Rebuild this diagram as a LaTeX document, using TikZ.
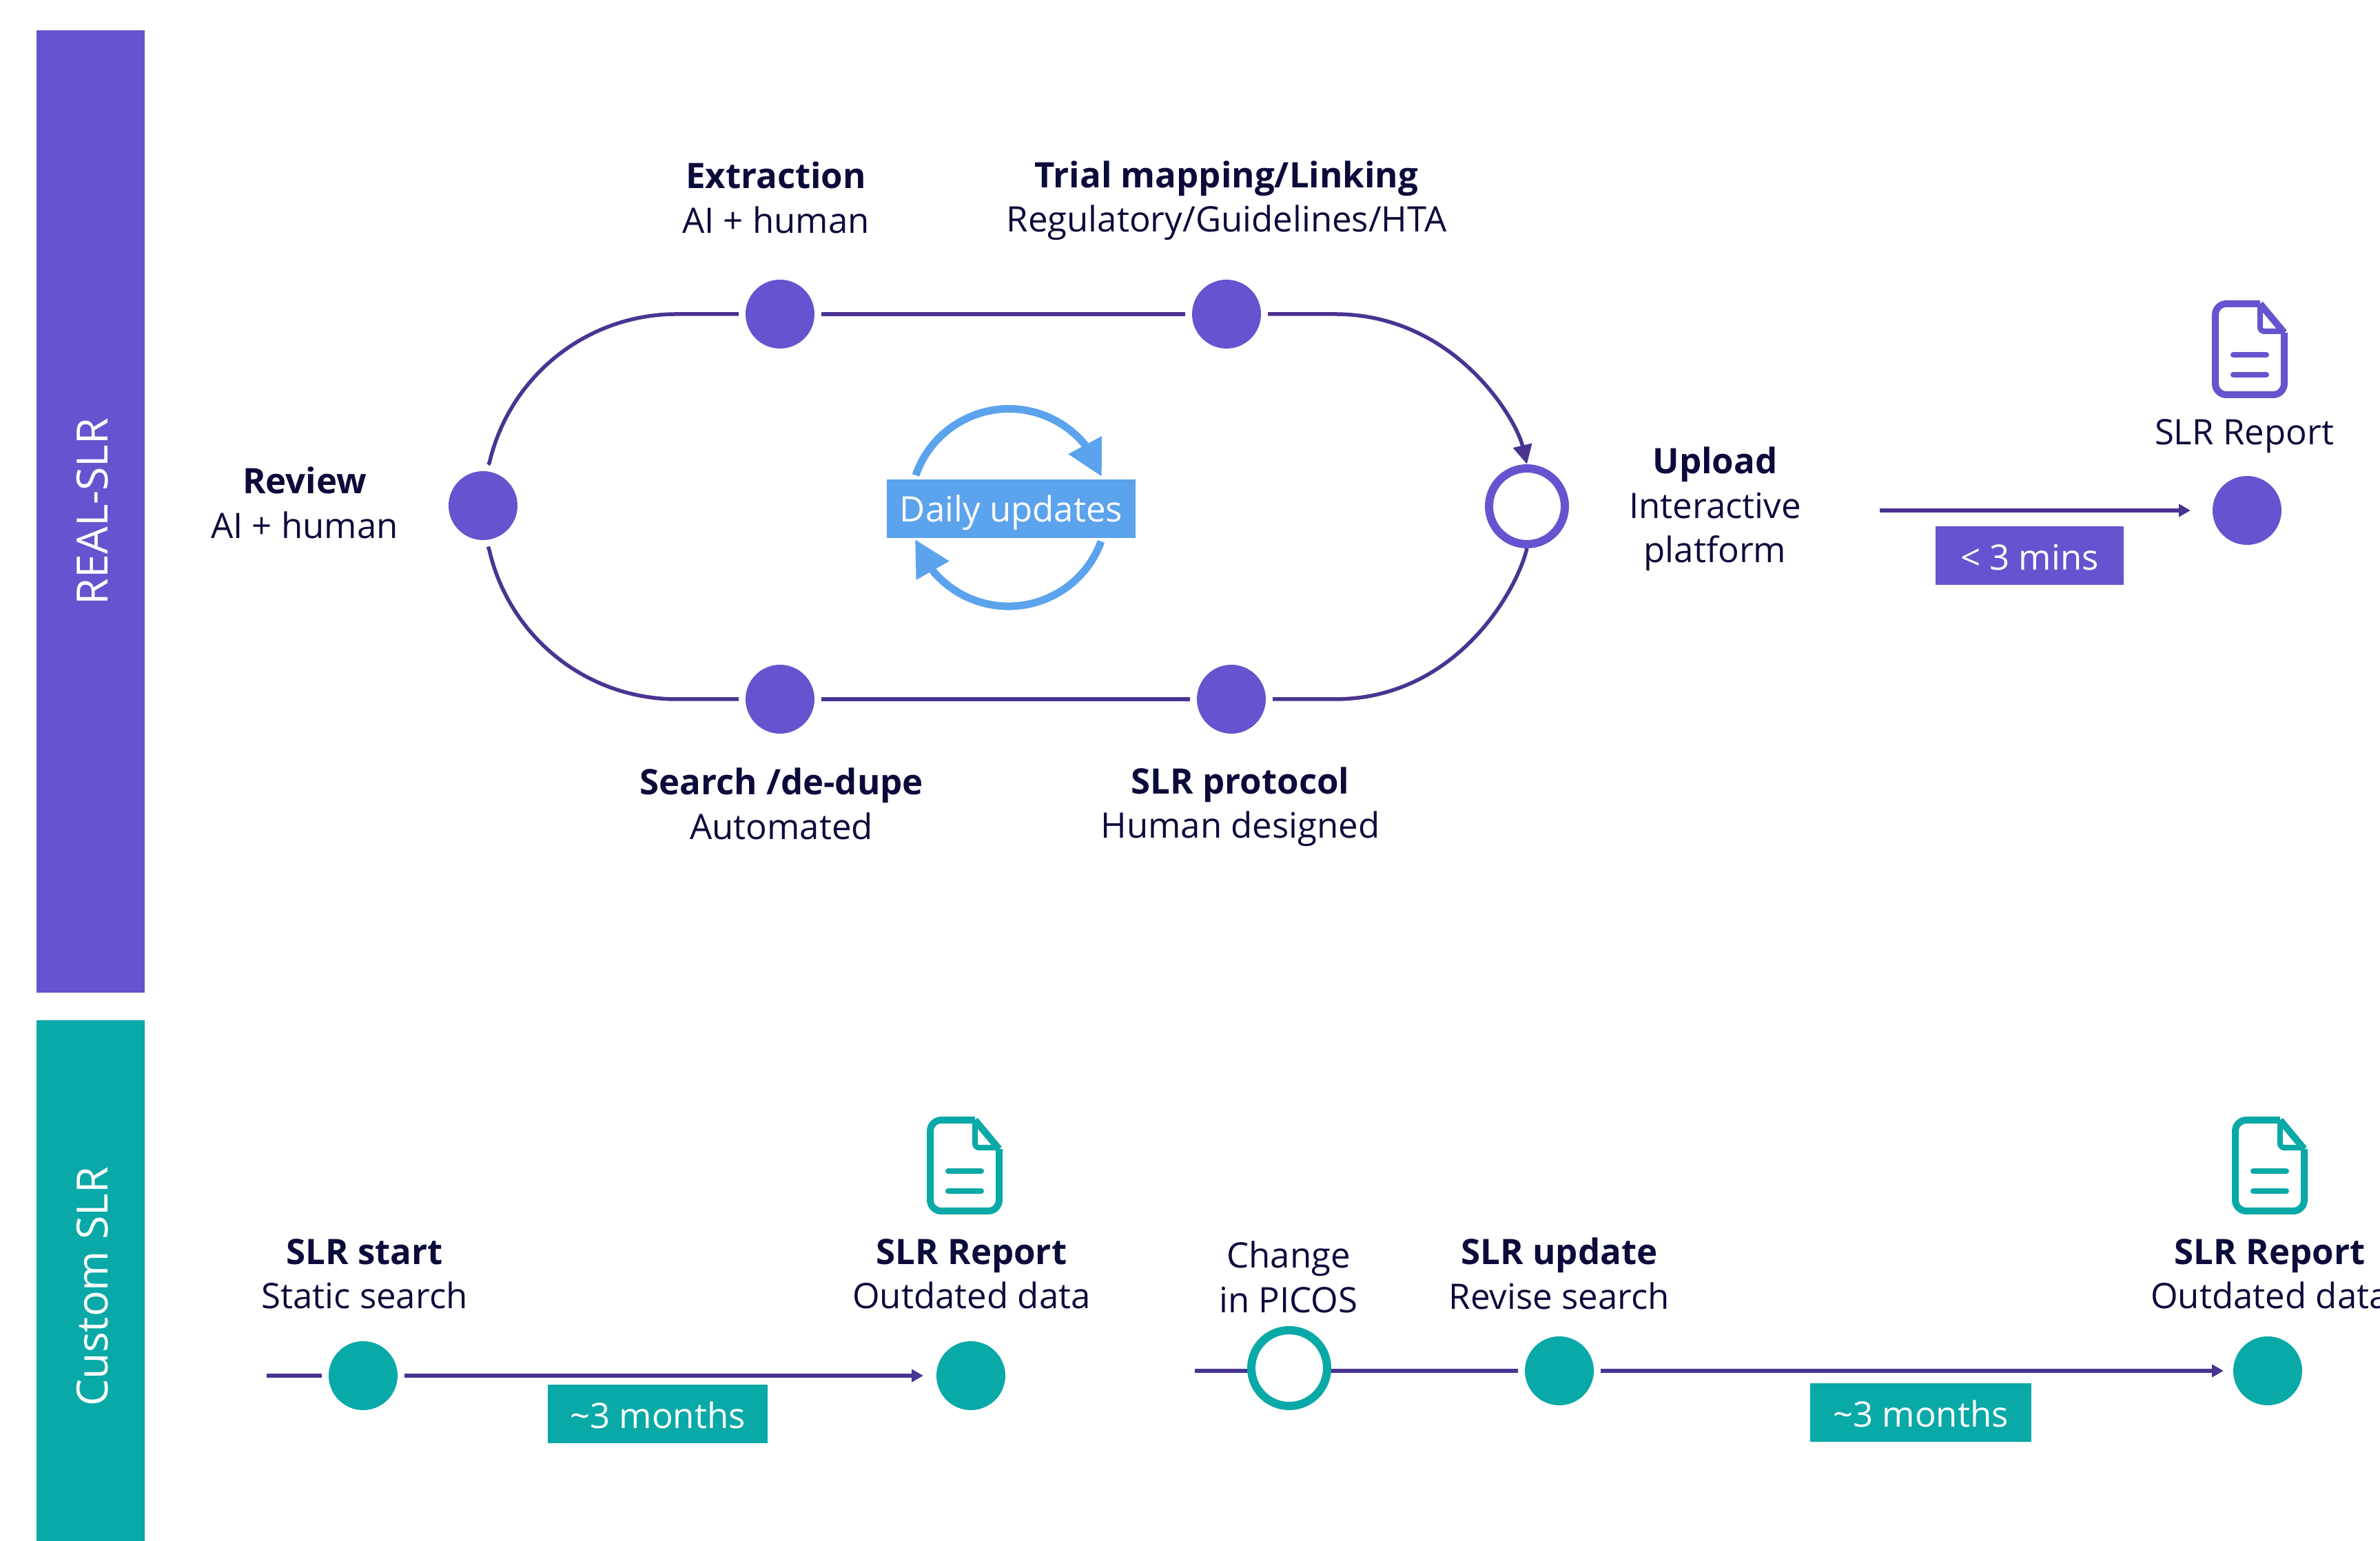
\documentclass[tikz,border=0pt]{standalone}
\usepackage{fontspec}
\setmainfont{Open Sans}
\usetikzlibrary{arrows.meta}

\definecolor{slrpurple}{HTML}{6454CF}
\definecolor{slrteal}{HTML}{09A9A7}
\definecolor{slrline}{HTML}{4A3491}
\definecolor{slrtext}{HTML}{0B0B3B}
\definecolor{slrblue}{HTML}{5BA3EC}

\tikzset{
    lbl/.style={text=slrtext, align=center, inner sep=0pt, font=\fontsize{14.5}{18.3}\selectfont},
    dot/.style={circle, inner sep=0pt, minimum size=1cm, outer sep=0.1cm},
    ring/.style={circle, draw, fill=white, line width=0.12cm, inner sep=0pt, minimum size=1.1cm},
    tag/.style={text=white, inner sep=0pt, minimum height=0.85cm, text height=0.54cm, text depth=0.11cm, font=\fontsize{14.5}{18.3}\selectfont},
    band/.style={rotate=90, text=white, inner sep=0pt, minimum height=1.57cm, text height=0.60cm, text depth=0.10cm, font=\fontsize{17.8}{20}\selectfont},
    loopline/.style={slrline, line width=0.055cm},
    flowline/.style={slrline, line width=0.06cm, -{Triangle[length=0.17cm,width=0.18cm]}},
    cycle arrow/.style={slrblue, line width=0.11cm, -{Triangle[length=0.52cm,width=0.52cm]}},
    docicon/.pic={
        \draw[pic actions, line width=0.1cm, rounded corners=0.16cm] (0.15,0.66) -- (-0.5,0.66) -- (-0.5,-0.66) -- (0.5,-0.66) -- (0.5,0.24);
        \draw[pic actions, line width=0.1cm] (0.5,0.24) -- (0.15,0.66);
        \draw[pic actions, line width=0.08cm, rounded corners=0.06cm] (0.15,0.66) -- (0.15,0.26) -- (0.5,0.26);
        \draw[pic actions, line width=0.08cm, line cap=round] (-0.24,-0.08) -- (0.24,-0.08);
        \draw[pic actions, line width=0.08cm, line cap=round] (-0.24,-0.37) -- (0.24,-0.37);
    }
}

\begin{document}
\begin{tikzpicture}

    \useasboundingbox (0,0) rectangle (34.54,22.37);

    % side bands
    \node[band, fill=slrpurple, minimum width=13.97cm] (realband) at (1.315,14.945) {REAL-SLR};
    \node[band, fill=slrteal, minimum width=7.74cm] (customband) at (1.315,3.69) {Custom SLR};

    % REAL-SLR loop
    \node[dot, fill=slrpurple] (review) at (7.01,15.03) {};
    \node[dot, fill=slrpurple] (extraction) at (11.32,17.81) {};
    \node[dot, fill=slrpurple] (mapping) at (17.80,17.81) {};
    \node[dot, fill=slrpurple] (search) at (11.32,12.22) {};
    \node[dot, fill=slrpurple] (protocol) at (17.87,12.22) {};
    \node[ring, draw=slrpurple] (upload) at (22.16,15.02) {};

    \draw[loopline] (extraction.west) -- (9.82,17.81) arc[start angle=90,end angle=167,radius=2.79] -- (review.83);
    \draw[loopline] (search.west) -- (9.82,12.22) arc[start angle=270,end angle=193,radius=2.79] -- (review.-83);
    \draw[loopline] (extraction) -- (mapping);
    \draw[loopline] (search) -- (protocol);
    \draw[loopline, -{Triangle[length=0.28cm,width=0.27cm]}] (mapping.east) -- (19.37,17.81) .. controls (21.10,17.81) and (22.00,16.30) .. (upload.north);
    \draw[loopline] (protocol.east) -- (19.37,12.22) .. controls (21.10,12.22) and (22.00,13.75) .. (upload.south);

    \node[lbl] (reviewlbl) at (4.42,15.07) {\textbf{Review}\\AI + human};
    \node[lbl] (extractionlbl) at (11.26,19.50) {\textbf{Extraction}\\AI + human};
    \node[lbl] (mappinglbl) at (17.80,19.46) {\textbf{Trial mapping/Linking}\\Regulatory/Guidelines/HTA};
    \node[lbl] (searchlbl) at (11.34,10.70) {\textbf{Search /de-dupe}\\Automated};
    \node[lbl] (protocollbl) at (18.00,10.66) {\textbf{SLR protocol}\\Human designed};
    \node[lbl] (uploadlbl) at (24.89,14.98) {\textbf{Upload}\\Interactive\\platform};

    % daily updates
    \coordinate (uptail) at (13.29,15.47);
    \coordinate (uptip) at (15.99,15.45);
    \coordinate (lowtail) at (15.98,14.51);
    \coordinate (lowtip) at (13.28,14.54);
    \draw[cycle arrow] (uptail) arc[start angle=161,end angle=40,radius=1.43] -- (uptip);
    \draw[cycle arrow] (lowtail) arc[start angle=-20,end angle=-140,radius=1.43] -- (lowtip);
    \node[tag, fill=slrblue, minimum width=3.61cm, text height=0.49cm] (daily) at (14.675,14.985) {Daily updates};

    % REAL-SLR report
    \coordinate (reportin) at (27.28,14.96);
    \node[dot, fill=slrpurple] (report) at (32.61,14.96) {};
    \draw[flowline, shorten >=0.22cm] (reportin) -- (report);
    \node[tag, fill=slrpurple, minimum width=2.73cm] (mins) at (29.455,14.305) {< 3 mins};
    \node[lbl] (reportlbl) at (32.57,16.04) {SLR Report};
    \pic[draw=slrpurple] at (32.65,17.30) {docicon};

    % custom SLR, first run
    \coordinate (startin) at (3.87,2.40);
    \node[dot, fill=slrteal] (start) at (5.27,2.40) {};
    \node[dot, fill=slrteal] (firstreport) at (14.09,2.40) {};
    \draw[loopline, line width=0.06cm] (startin) -- (start);
    \draw[flowline, shorten >=0.09cm] (start) -- (firstreport);
    \node[tag, fill=slrteal, minimum width=3.19cm] (firstmonths) at (9.545,1.845) {\textasciitilde3 months};
    \node[lbl] (startlbl) at (5.29,3.88) {\textbf{SLR start}\\Static search};
    \node[lbl] (firstreportlbl) at (14.10,3.88) {\textbf{SLR Report}\\Outdated data};
    \pic[draw=slrteal] at (14.00,5.45) {docicon};

    % custom SLR, second run
    \coordinate (changein) at (17.34,2.47);
    \node[dot, fill=slrteal] (update) at (22.63,2.47) {};
    \node[dot, fill=slrteal] (lastreport) at (32.91,2.47) {};
    \draw[loopline, line width=0.06cm] (changein) -- (update);
    \draw[flowline, shorten >=0.04cm] (update) -- (lastreport);
    \node[ring, draw=slrteal] (change) at (18.71,2.51) {};
    \node[tag, fill=slrteal, minimum width=3.21cm] (lastmonths) at (27.875,1.865) {\textasciitilde3 months};
    \node[lbl] (changelbl) at (18.70,3.83) {Change\\in PICOS};
    \node[lbl] (updatelbl) at (22.63,3.88) {\textbf{SLR update}\\Revise search};
    \node[lbl] (lastreportlbl) at (32.94,3.88) {\textbf{SLR Report}\\Outdated data};
    \pic[draw=slrteal] at (32.94,5.45) {docicon};

\end{tikzpicture}
\end{document}
